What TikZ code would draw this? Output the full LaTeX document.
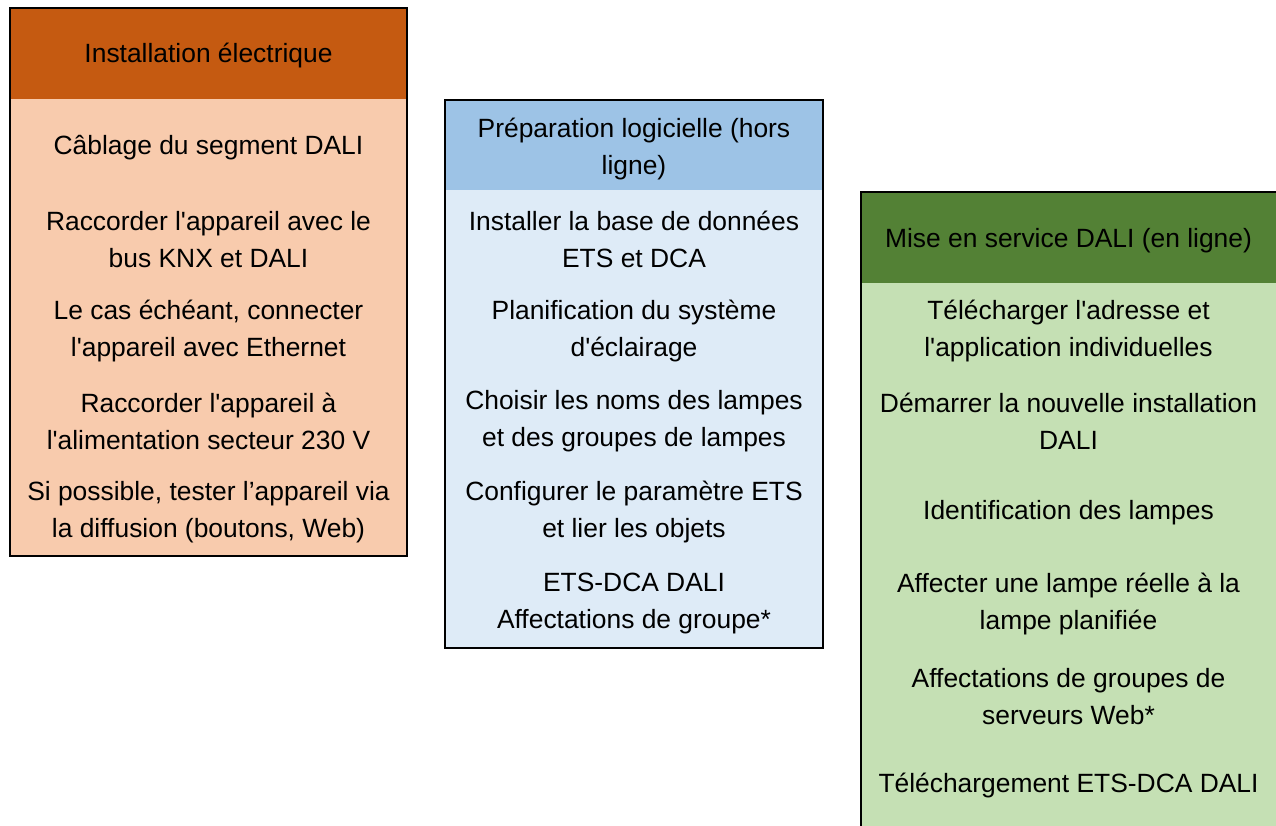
\documentclass[tikz,border=0pt]{standalone}
\usepackage{fontspec}
\setmainfont{Liberation Sans}
\definecolor{orangehd}{HTML}{C55A11}
\definecolor{orangebd}{HTML}{F8CBAD}
\definecolor{bluehd}{HTML}{9DC3E6}
\definecolor{bluebd}{HTML}{DEEBF7}
\definecolor{greenhd}{HTML}{538135}
\definecolor{greenbd}{HTML}{C5E0B4}
\newcommand{\ap}{\textquotesingle}
\tikzset{
  item/.style={align=center, inner sep=0pt},
  frame/.style={draw=black, line width=2pt}
}
\begin{document}
\begin{tikzpicture}[x=1pt,y=-1pt,font=\fontsize{26.4}{37}\selectfont]
\useasboundingbox (0,0) rectangle (1276,825);
\clip (0,0) rectangle (1276,825);

\fill[orangebd] (10,8) rectangle (407,556);
\fill[orangehd] (10,8) rectangle (407,99);
\draw[frame] (10,8) rectangle (407,556);
\node (elechd) [item] at (208.5,56) {Installation électrique};
\node (elec1) [item] at (208.5,148) {Câblage du segment DALI};
\node (elec2) [item] at (208.5,239.5) {Raccorder l\ap appareil avec le\\bus KNX et DALI};
\node (elec3) [item] at (208.5,331.5) {Le cas échéant, connecter\\l\ap appareil avec Ethernet};
\node (elec4) [item] at (208.5,421.5) {Raccorder l\ap appareil à\\l\ap alimentation secteur 230 V};
\node (elec5) [item] at (208.5,512.5) {Si possible, tester l’appareil via\\la diffusion (boutons, Web)};

\fill[bluebd] (445,100) rectangle (823,648);
\fill[bluehd] (445,100) rectangle (823,190);
\draw[frame] (445,100) rectangle (823,648);
\node (soft) [item] at (634,149) {Préparation logicielle (hors\\ligne)};
\node (soft1) [item] at (634,239.5) {Installer la base de données\\ETS et DCA};
\node (soft2) [item] at (634,331.5) {Planification du système\\d\ap éclairage};
\node (soft3) [item] at (634,421.5) {Choisir les noms des lampes\\et des groupes de lampes};
\node (soft4) [item] at (634,512.5) {Configurer le paramètre ETS\\et lier les objets};
\node (soft5) [item] at (634,604) {ETS-DCA DALI\\Affectations de groupe*};

\fill[greenbd] (861,192) rectangle (1310,850);
\fill[greenhd] (861,192) rectangle (1310,283);
\draw[frame] (861,192) rectangle (1310,850);
\node (dali) [item] at (1068.5,241) {Mise en service DALI (en ligne)};
\node (dali1) [item] at (1068.5,331.5) {Télécharger l\ap adresse et\\l\ap application individuelles};
\node (dali2) [item] at (1068.5,421.5) {Démarrer la nouvelle installation\\DALI};
\node (dali3) [item] at (1068.5,513) {Identification des lampes};
\node (dali4) [item] at (1068.5,604) {Affecter une lampe réelle à la\\lampe planifiée};
\node (dali5) [item] at (1068.5,696.5) {Affectations de groupes de\\serveurs Web*};
\node (dali6) [item] at (1068.5,786) {Téléchargement ETS-DCA DALI};
\end{tikzpicture}
\end{document}
